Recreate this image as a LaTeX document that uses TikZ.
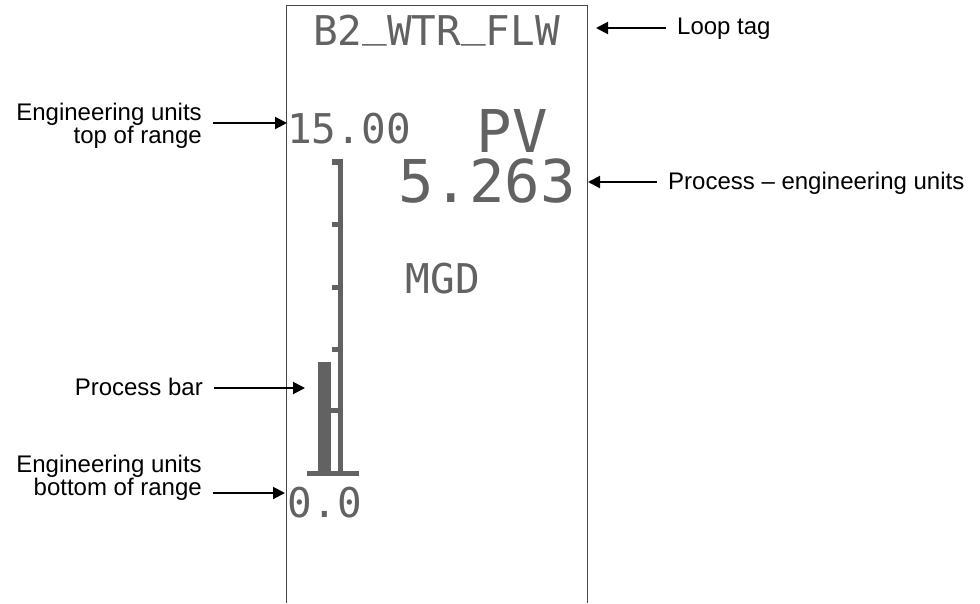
\documentclass[tikz,border=0pt]{standalone}
\usepackage{fontspec}
\setmainfont{Liberation Sans}
\newfontfamily\lcdfont{DejaVu Sans Mono}
\usetikzlibrary{arrows.meta}
\definecolor{lcdgray}{RGB}{98,98,98}
\definecolor{frame}{RGB}{70,70,70}
\tikzset{
  callout/.style={font=\fontsize{24}{22.5}\selectfont, inner xsep=11pt, inner ysep=0pt, text=black},
  pointer/.style={line width=2pt, -{Triangle[length=12pt,width=12pt]}},
  lcdsmall/.style={font=\lcdfont\fontsize{41}{41}\selectfont, text=lcdgray, inner sep=0pt, anchor=base},
  lcdlarge/.style={font=\lcdfont\fontsize{59}{59}\selectfont, text=lcdgray, inner sep=0pt, anchor=base},
  lcdfill/.style={fill=lcdgray, draw=none}
}
\newcommand{\lcdus}{\raisebox{.21em}{\_}}
\begin{document}
\begin{tikzpicture}[x=1pt,y=-1pt]
\useasboundingbox (0,0) rectangle (980,603);

% display frame (open at the bottom)
\draw[frame, line width=1pt] (286,603) -- (286,5) -- (587,5) -- (587,603);

% display texts
\node[lcdsmall] (tag)  at (436.5,45) {B2\lcdus WTR\lcdus FLW};
\node[lcdsmall] (top)  at (349,143)  {15.00};
\node[lcdlarge] (pv)   at (512.5,152) {PV};
\node[lcdlarge] (val)  at (487,202)  {5.263};
\node[lcdsmall] (unit) at (443,293)  {MGD};
\node[lcdsmall] (bot)  at (325,517)  {0.0};

% bar graph: scale, ticks, base line and process bar
\fill[lcdfill] (337.5,159) rectangle (343,473);
\fill[lcdfill] (332,159) rectangle (337.5,165);
\foreach \ty in {222,285,347}
  \fill[lcdfill] (332,\ty) rectangle (337.5,\ty+5);
\fill[lcdfill] (331,408) rectangle (337.5,413);
\fill[lcdfill] (307,471) rectangle (359,476);
\fill[lcdfill] (318,362) rectangle (331,471);

% arrow targets
\coordinate (tagtip) at (596,28);
\coordinate (valtip) at (588,182);
\coordinate (toptip) at (287,123);
\coordinate (bartip) at (305,388);
\coordinate (bottip) at (285,493);

% callout labels
\node[callout, anchor=base west] (lloop) at (666,34) {Loop tag};
\node[callout, anchor=base west] (lval) at (657,189) {Process – engineering units};
\node[callout, anchor=north east, align=right] (ltop) at (213,103) {Engineering units\\top of range};
\node[callout, anchor=base east] (lbar) at (214,395) {Process bar};
\node[callout, anchor=north east, align=right] (lbot) at (213,455) {Engineering units\\bottom of range};

% pointers
\draw[pointer] (lloop.west |- tagtip) -- (tagtip);
\draw[pointer] (lval.west |- valtip) -- (valtip);
\draw[pointer] (ltop.east |- toptip) -- (toptip);
\draw[pointer] (lbar.east |- bartip) -- (bartip);
\draw[pointer] (lbot.east |- bottip) -- (bottip);
\end{tikzpicture}
\end{document}
